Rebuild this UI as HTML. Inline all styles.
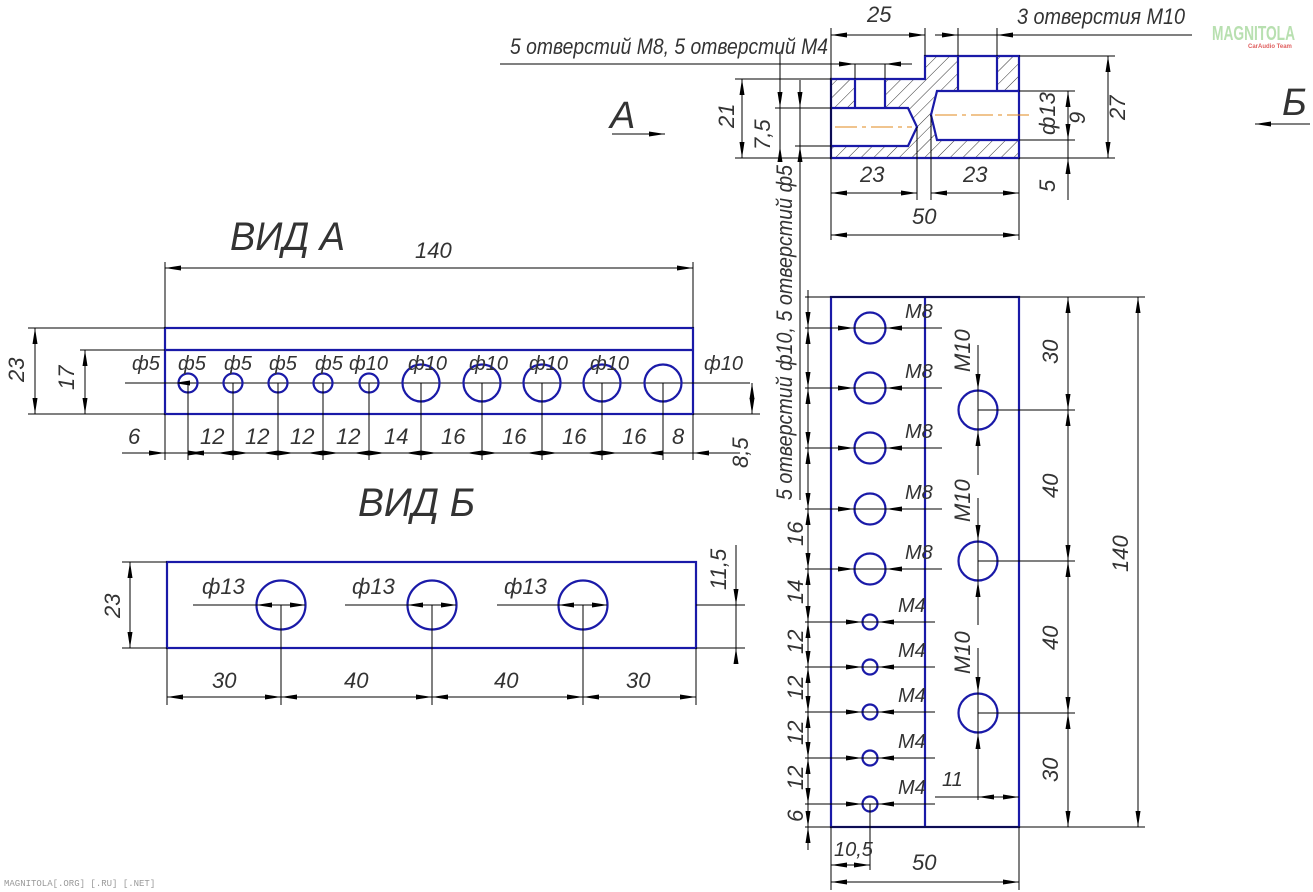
<!DOCTYPE html>
<html><head><meta charset="utf-8"><style>
html,body{margin:0;padding:0;background:#fff;}
svg{display:block;}
.t{font-family:"Liberation Sans",sans-serif;font-style:italic;font-size:22px;fill:#333;}
.b{fill:none;stroke:#1a1aa8;stroke-width:2.2;}
.d{fill:none;stroke:#000;stroke-width:1;}
.a{fill:none;stroke:#000;stroke-width:1;marker-start:url(#ar);marker-end:url(#ar);}
.ae{fill:none;stroke:#000;stroke-width:1;marker-end:url(#ar);}
.c{fill:none;stroke:#e08a1e;stroke-width:1;stroke-dasharray:22 5 4 5;}
</style></head><body>
<svg width="1313" height="892" viewBox="0 0 1313 892" xmlns="http://www.w3.org/2000/svg">
<defs>
<marker id="ar" viewBox="0 0 16 6" refX="16" refY="3" markerWidth="16" markerHeight="6" markerUnits="userSpaceOnUse" orient="auto-start-reverse"><path d="M0,0.5 L16,3 L0,5.5 Z" fill="#000"/></marker>
<pattern id="h" width="9" height="9" patternUnits="userSpaceOnUse" patternTransform="rotate(45)"><line x1="0" y1="0" x2="0" y2="9" stroke="#000" stroke-width="0.8"/></pattern>
</defs>

<!-- watermarks -->
<text x="1212" y="40" textLength="83" lengthAdjust="spacingAndGlyphs" style="font-family:'Liberation Sans',sans-serif;font-size:20px;fill:#b8e0b0;font-weight:bold">MAGNITOLA</text>
<text x="1248" y="48" style="font-family:'Liberation Sans',sans-serif;font-size:6px;fill:#e06060;font-weight:bold">CarAudio Team</text>
<text x="4" y="886" style="font-family:'Liberation Mono',monospace;font-size:9px;fill:#999">MAGNITOLA[.ORG] [.RU] [.NET]</text>

<!-- ===== SECTION (top) ===== -->
<path d="M831,79 H925 V56 H1019 V158 H831 Z" fill="url(#h)"/>
<rect x="855" y="79" width="30" height="29" fill="#fff"/>
<rect x="958" y="56" width="39" height="35" fill="#fff"/>
<path d="M831,108 H908 L917,127 L908,146 H831 Z" fill="#fff"/>
<path d="M937,91 H1019 V140 H937 L931,115 Z" fill="#fff"/>
<path class="b" d="M831,79 H925 V56 H1019 V158 H831 Z"/>
<path class="b" d="M855,79 V108 M885,79 V108 M958,56 V91 M997,56 V91"/>
<path class="b" d="M831,108 H908 L917,127 L908,146 H831"/>
<path class="b" d="M1019,91 H937 L931,115 L937,140 H1019"/>
<line class="c" x1="835" y1="127" x2="912" y2="127"/>
<line class="c" x1="935" y1="115" x2="1030" y2="115"/>
<!-- section dims -->
<line class="d" x1="831" y1="28" x2="831" y2="240"/>
<line class="d" x1="925" y1="28" x2="925" y2="56"/>
<line class="a" x1="831" y1="35" x2="925" y2="35"/>
<text class="t" x="867" y="22">25</text>
<line class="d" x1="958" y1="28" x2="958" y2="56"/>
<line class="d" x1="997" y1="28" x2="997" y2="56"/>
<line class="d" x1="935" y1="35" x2="1192" y2="35"/>
<path d="M942,32.5 L958,35 L942,37.5Z M1013,32.5 L997,35 L1013,37.5Z" fill="#000"/>
<text class="t" x="1017" y="24" textLength="168" lengthAdjust="spacingAndGlyphs">3 отверстия M10</text>
<line class="d" x1="500" y1="64" x2="912" y2="64"/>
<line class="d" x1="855" y1="64" x2="855" y2="79"/>
<line class="d" x1="885" y1="64" x2="885" y2="79"/>
<path d="M839,61.5 L855,64 L839,66.5Z M901,61.5 L885,64 L901,66.5Z" fill="#000"/>
<text class="t" x="510" y="54" textLength="318" lengthAdjust="spacingAndGlyphs">5 отверстий M8, 5 отверстий M4</text>
<line class="d" x1="735" y1="79" x2="831" y2="79"/>
<line class="d" x1="735" y1="158" x2="831" y2="158"/>
<line class="a" x1="742" y1="79" x2="742" y2="158"/>
<text class="t" transform="translate(734,128) rotate(-90)">21</text>
<line class="d" x1="775" y1="108" x2="831" y2="108"/>
<line class="d" x1="795" y1="146" x2="831" y2="146"/>
<line class="d" x1="780" y1="52" x2="780" y2="160"/>
<path d="M777.5,92 L780,108 L782.5,92Z M777.5,162 L780,146 L782.5,162Z" fill="#000"/>
<text class="t" transform="translate(770,150) rotate(-90)">7,5</text>
<line class="d" x1="800" y1="80" x2="800" y2="500"/>
<path d="M797.5,92 L800,108 L802.5,92Z M797.5,162 L800,146 L802.5,162Z" fill="#000"/>
<line class="d" x1="1019" y1="56" x2="1115" y2="56"/>
<line class="d" x1="1019" y1="91" x2="1075" y2="91"/>
<line class="d" x1="1019" y1="140" x2="1075" y2="140"/>
<line class="d" x1="1019" y1="158" x2="1115" y2="158"/>
<line class="a" x1="1068" y1="91" x2="1068" y2="140"/>
<text class="t" transform="translate(1055,135) rotate(-90)">ф13</text>
<text class="t" transform="translate(1085,124) rotate(-90)">9</text>
<line class="a" x1="1108" y1="56" x2="1108" y2="158"/>
<text class="t" transform="translate(1125,120) rotate(-90)">27</text>
<line class="d" x1="1068" y1="140" x2="1068" y2="200"/>
<path d="M1065.5,174 L1068,158 L1070.5,174Z" fill="#000"/>
<text class="t" transform="translate(1055,192) rotate(-90)">5</text>
<line class="d" x1="917" y1="127" x2="917" y2="200"/>
<line class="d" x1="931" y1="115" x2="931" y2="200"/>
<line class="d" x1="1019" y1="158" x2="1019" y2="240"/>
<line class="a" x1="831" y1="193" x2="917" y2="193"/>
<line class="a" x1="931" y1="193" x2="1019" y2="193"/>
<text class="t" x="860" y="182">23</text>
<text class="t" x="963" y="182">23</text>
<line class="a" x1="831" y1="235" x2="1019" y2="235"/>
<text class="t" x="912" y="224">50</text>

<!-- view arrows -->
<text class="t" x="610" y="128" style="font-size:38px">A</text>
<line class="ae" x1="612" y1="134" x2="665" y2="134"/>
<text class="t" x="1282" y="115" style="font-size:38px">Б</text>
<line class="ae" x1="1310" y1="124" x2="1255" y2="124"/>

<!-- ===== VIEW A ===== -->
<text class="t" x="230" y="250" style="font-size:40px" textLength="115" lengthAdjust="spacingAndGlyphs">ВИД  А</text>
<rect class="b" x="165" y="328" width="528" height="86"/>
<line class="b" x1="165" y1="350" x2="693" y2="350"/>
<line class="d" x1="165" y1="262" x2="165" y2="328"/>
<line class="d" x1="693" y1="262" x2="693" y2="328"/>
<line class="a" x1="165" y1="268" x2="693" y2="268"/>
<text class="t" x="415" y="258">140</text>
<line class="d" x1="28" y1="328" x2="165" y2="328"/>
<line class="d" x1="28" y1="414" x2="165" y2="414"/>
<line class="d" x1="80" y1="350" x2="165" y2="350"/>
<line class="a" x1="35" y1="328" x2="35" y2="414"/>
<line class="a" x1="85" y1="350" x2="85" y2="414"/>
<text class="t" transform="translate(24,382) rotate(-90)">23</text>
<text class="t" transform="translate(74,390) rotate(-90)">17</text>
<line class="d" x1="125" y1="383" x2="750" y2="383"/>
<line class="d" x1="693" y1="414" x2="760" y2="414"/>
<g class="b">
<circle cx="188" cy="383" r="9.5"/><circle cx="233" cy="383" r="9.5"/><circle cx="278" cy="383" r="9.5"/><circle cx="323" cy="383" r="9.5"/><circle cx="369" cy="383" r="9.5"/>
<circle cx="421" cy="383" r="18.5"/><circle cx="482" cy="383" r="18.5"/><circle cx="542" cy="383" r="18.5"/><circle cx="602" cy="383" r="18.5"/><circle cx="663" cy="383" r="18.5"/>
</g>
<g class="t" style="font-size:20px">
<text x="132" y="370">ф5</text><text x="178" y="370">ф5</text><text x="224" y="370">ф5</text><text x="269" y="370">ф5</text><text x="315" y="370">ф5</text><text x="349" y="370">ф10</text>
<text x="408" y="370">ф10</text><text x="469" y="370">ф10</text><text x="529" y="370">ф10</text><text x="590" y="370">ф10</text><text x="704" y="370">ф10</text>
</g>
<g class="d">
<line x1="165" y1="414" x2="165" y2="460"/><line x1="693" y1="414" x2="693" y2="460"/>
<line x1="188" y1="383" x2="188" y2="460"/><line x1="233" y1="383" x2="233" y2="460"/><line x1="278" y1="383" x2="278" y2="460"/><line x1="323" y1="383" x2="323" y2="460"/><line x1="369" y1="383" x2="369" y2="460"/>
<line x1="421" y1="383" x2="421" y2="460"/><line x1="482" y1="383" x2="482" y2="460"/><line x1="542" y1="383" x2="542" y2="460"/><line x1="602" y1="383" x2="602" y2="460"/><line x1="663" y1="383" x2="663" y2="460"/>
<line x1="122" y1="453" x2="740" y2="453"/>
</g>
<g fill="#000">
<path d="M149,450.5 L165,453 L149,455.5Z M204,450.5 L188,453 L204,455.5Z"/>
<path d="M188,450.5 L204,453 L188,455.5Z M233,450.5 L217,453 L233,455.5Z M233,450.5 L249,453 L233,455.5Z M278,450.5 L262,453 L278,455.5Z M278,450.5 L294,453 L278,455.5Z M323,450.5 L307,453 L323,455.5Z M323,450.5 L339,453 L323,455.5Z M369,450.5 L353,453 L369,455.5Z M369,450.5 L385,453 L369,455.5Z M421,450.5 L405,453 L421,455.5Z M421,450.5 L437,453 L421,455.5Z M482,450.5 L466,453 L482,455.5Z M482,450.5 L498,453 L482,455.5Z M542,450.5 L526,453 L542,455.5Z M542,450.5 L558,453 L542,455.5Z M602,450.5 L586,453 L602,455.5Z M602,450.5 L618,453 L602,455.5Z M663,450.5 L647,453 L663,455.5Z M709,450.5 L693,453 L709,455.5Z"/>
<path d="M190,380.5 L174,383 L190,385.5Z"/>
</g>
<g class="t">
<text x="128" y="444">6</text><text x="200" y="444">12</text><text x="245" y="444">12</text><text x="290" y="444">12</text><text x="336" y="444">12</text>
<text x="384" y="444">14</text><text x="441" y="444">16</text><text x="502" y="444">16</text><text x="562" y="444">16</text><text x="622" y="444">16</text><text x="672" y="444">8</text>
</g>
<line class="a" x1="752" y1="383" x2="752" y2="414"/>
<text class="t" transform="translate(748,468) rotate(-90)">8,5</text>

<!-- ===== VIEW B ===== -->
<text class="t" x="358" y="516" style="font-size:40px" textLength="117" lengthAdjust="spacingAndGlyphs">ВИД  Б</text>
<rect class="b" x="167" y="562" width="529" height="86"/>
<g class="b"><circle cx="281" cy="605" r="24.5"/><circle cx="432" cy="605" r="24.5"/><circle cx="583" cy="605" r="24.5"/></g>
<g class="d">
<line x1="193" y1="605" x2="305" y2="605"/><line x1="345" y1="605" x2="456" y2="605"/><line x1="497" y1="605" x2="607" y2="605"/>
<line x1="281" y1="605" x2="281" y2="705"/><line x1="432" y1="605" x2="432" y2="705"/><line x1="583" y1="605" x2="583" y2="705"/>
<line x1="167" y1="648" x2="167" y2="705"/><line x1="696" y1="648" x2="696" y2="705"/>
<line x1="122" y1="562" x2="167" y2="562"/><line x1="122" y1="648" x2="167" y2="648"/>
<line x1="696" y1="605" x2="745" y2="605"/><line x1="696" y1="648" x2="745" y2="648"/>
</g>
<g fill="#000"><path d="M272,602.5 L256,605 L272,607.5Z M290,602.5 L306,605 L290,607.5Z M423,602.5 L407,605 L423,607.5Z M441,602.5 L457,605 L441,607.5Z M574,602.5 L558,605 L574,607.5Z M592,602.5 L608,605 L592,607.5Z"/></g>
<g class="t"><text x="202" y="594">ф13</text><text x="352" y="594">ф13</text><text x="504" y="594">ф13</text></g>
<line class="a" x1="130" y1="562" x2="130" y2="648"/>
<text class="t" transform="translate(120,618) rotate(-90)">23</text>
<line class="d" x1="736" y1="545" x2="736" y2="660"/>
<path d="M733.5,589 L736,605 L738.5,589Z M733.5,664 L736,648 L738.5,664Z" fill="#000"/>
<text class="t" transform="translate(726,590) rotate(-90)">11,5</text>
<line class="a" x1="167" y1="697" x2="281" y2="697"/><line class="a" x1="281" y1="697" x2="432" y2="697"/><line class="a" x1="432" y1="697" x2="583" y2="697"/><line class="a" x1="583" y1="697" x2="696" y2="697"/>
<g class="t"><text x="212" y="688">30</text><text x="344" y="688">40</text><text x="494" y="688">40</text><text x="626" y="688">30</text></g>

<!-- ===== RIGHT VIEW ===== -->
<text class="t" transform="translate(792,500) rotate(-90)" textLength="335" lengthAdjust="spacingAndGlyphs">5 отверстий ф10, 5 отверстий ф5</text>
<rect class="b" x="831" y="297" width="188" height="530"/>
<line class="b" x1="925" y1="297" x2="925" y2="827"/>
<g class="b">
<circle cx="870" cy="328" r="15.5"/><circle cx="870" cy="388" r="15.5"/><circle cx="870" cy="448" r="15.5"/><circle cx="870" cy="509" r="15.5"/><circle cx="870" cy="569" r="15.5"/>
<circle cx="870" cy="622" r="7.5"/><circle cx="870" cy="667" r="7.5"/><circle cx="870" cy="712" r="7.5"/><circle cx="870" cy="758" r="7.5"/><circle cx="870" cy="804" r="7.5"/>
<circle cx="978" cy="410" r="19.5"/><circle cx="978" cy="561" r="19.5"/><circle cx="978" cy="713" r="19.5"/>
</g>
<g class="d">
<line x1="805" y1="328" x2="942" y2="328"/><line x1="805" y1="388" x2="942" y2="388"/><line x1="805" y1="448" x2="942" y2="448"/><line x1="805" y1="509" x2="942" y2="509"/><line x1="805" y1="569" x2="942" y2="569"/>
<line x1="805" y1="622" x2="935" y2="622"/><line x1="805" y1="667" x2="935" y2="667"/><line x1="805" y1="712" x2="935" y2="712"/><line x1="805" y1="758" x2="935" y2="758"/><line x1="805" y1="804" x2="935" y2="804"/>
<line x1="805" y1="297" x2="1145" y2="297"/><line x1="805" y1="827" x2="1145" y2="827"/>
<line x1="808" y1="290" x2="808" y2="850"/>
<line x1="978" y1="345" x2="978" y2="475"/><line x1="978" y1="498" x2="978" y2="625"/><line x1="978" y1="648" x2="978" y2="800"/>
<line x1="978" y1="410" x2="1075" y2="410"/><line x1="978" y1="561" x2="1075" y2="561"/><line x1="978" y1="713" x2="1075" y2="713"/>
<line x1="935" y1="797" x2="1019" y2="797"/>
<line x1="870" y1="804" x2="870" y2="870"/><line x1="831" y1="827" x2="831" y2="890"/><line x1="1019" y1="827" x2="1019" y2="890"/>
</g>
<g fill="#000">
<path d="M805.5,312 L808,328 L810.5,312Z M805.5,344 L808,328 L810.5,344Z M805.5,372 L808,388 L810.5,372Z M805.5,404 L808,388 L810.5,404Z M805.5,432 L808,448 L810.5,432Z M805.5,464 L808,448 L810.5,464Z M805.5,493 L808,509 L810.5,493Z M805.5,525 L808,509 L810.5,525Z M805.5,553 L808,569 L810.5,553Z M805.5,585 L808,569 L810.5,585Z M805.5,606 L808,622 L810.5,606Z M805.5,638 L808,622 L810.5,638Z M805.5,651 L808,667 L810.5,651Z M805.5,683 L808,667 L810.5,683Z M805.5,696 L808,712 L810.5,696Z M805.5,728 L808,712 L810.5,728Z M805.5,742 L808,758 L810.5,742Z M805.5,774 L808,758 L810.5,774Z M805.5,788 L808,804 L810.5,788Z M805.5,811 L808,827 L810.5,811Z M805.5,843 L808,827 L810.5,843Z"/>
<path d="M838,325.5 L854,328 L838,330.5Z M902,325.5 L886,328 L902,330.5Z M838,385.5 L854,388 L838,390.5Z M902,385.5 L886,388 L902,390.5Z M838,445.5 L854,448 L838,450.5Z M902,445.5 L886,448 L902,450.5Z M838,506.5 L854,509 L838,511.5Z M902,506.5 L886,509 L902,511.5Z M838,566.5 L854,569 L838,571.5Z M902,566.5 L886,569 L902,571.5Z"/>
<path d="M846,619.5 L862,622 L846,624.5Z M894,619.5 L878,622 L894,624.5Z M846,664.5 L862,667 L846,669.5Z M894,664.5 L878,667 L894,669.5Z M846,709.5 L862,712 L846,714.5Z M894,709.5 L878,712 L894,714.5Z M846,755.5 L862,758 L846,760.5Z M894,755.5 L878,758 L894,760.5Z M846,801.5 L862,804 L846,806.5Z M894,801.5 L878,804 L894,806.5Z"/>
<path d="M975.5,374 L978,390 L980.5,374Z M975.5,446 L978,430 L980.5,446Z M975.5,525 L978,541 L980.5,525Z M975.5,597 L978,581 L980.5,597Z M975.5,677 L978,693 L980.5,677Z M975.5,749 L978,733 L980.5,749Z"/>
<path d="M994,794.5 L978,797 L994,799.5Z M1003,794.5 L1019,797 L1003,799.5Z"/>
</g>
<g class="t" style="font-size:20px">
<text x="905" y="318">M8</text><text x="905" y="378">M8</text><text x="905" y="438">M8</text><text x="905" y="499">M8</text><text x="905" y="559">M8</text>
<text x="898" y="612">M4</text><text x="898" y="657">M4</text><text x="898" y="702">M4</text><text x="898" y="748">M4</text><text x="898" y="794">M4</text>
<text x="942" y="786">11</text>
</g>
<g class="t">
<text transform="translate(970,372) rotate(-90)">M10</text><text transform="translate(970,522) rotate(-90)">M10</text><text transform="translate(970,674) rotate(-90)">M10</text>
<text transform="translate(803,546) rotate(-90)">16</text><text transform="translate(803,604) rotate(-90)">14</text>
<text transform="translate(803,654) rotate(-90)">12</text><text transform="translate(803,700) rotate(-90)">12</text><text transform="translate(803,745) rotate(-90)">12</text><text transform="translate(803,790) rotate(-90)">12</text>
<text transform="translate(803,822) rotate(-90)">6</text>
<text transform="translate(1058,364) rotate(-90)">30</text><text transform="translate(1058,498) rotate(-90)">40</text><text transform="translate(1058,650) rotate(-90)">40</text><text transform="translate(1058,782) rotate(-90)">30</text>
<text transform="translate(1128,572) rotate(-90)">140</text>
</g>
<line class="a" x1="1068" y1="297" x2="1068" y2="410"/><line class="a" x1="1068" y1="410" x2="1068" y2="561"/><line class="a" x1="1068" y1="561" x2="1068" y2="713"/><line class="a" x1="1068" y1="713" x2="1068" y2="827"/>
<line class="a" x1="1138" y1="297" x2="1138" y2="827"/>
<line class="a" x1="831" y1="865" x2="870" y2="865"/>
<text class="t" x="834" y="856" style="font-size:20px">10,5</text>
<line class="a" x1="831" y1="882" x2="1019" y2="882"/>
<text class="t" x="912" y="870">50</text>
</svg>
</body></html>
